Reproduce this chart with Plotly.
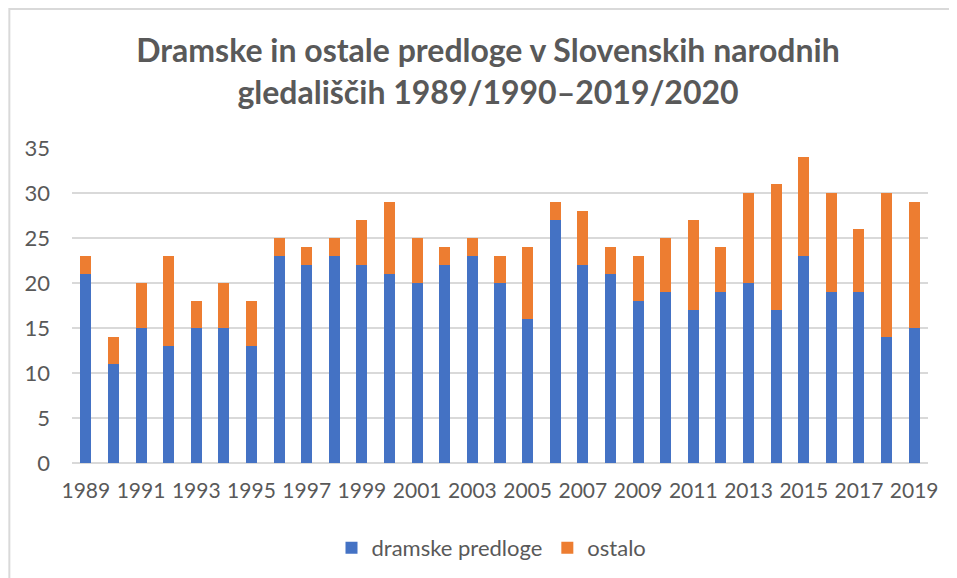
import plotly.graph_objects as go

years = list(range(1989, 2020))
dramske = [21, 11, 15, 13, 15, 15, 13, 23, 22, 23, 22, 21, 20, 22, 23, 20, 16, 27, 22, 21, 18, 19, 17, 19, 20, 17, 23, 19, 19, 14, 15]
ostalo = [2, 3, 5, 10, 3, 5, 5, 2, 2, 2, 5, 8, 5, 2, 2, 3, 8, 2, 6, 3, 5, 6, 10, 5, 10, 14, 11, 11, 7, 16, 14]
tick_years = list(range(1989, 2020, 2))
y_ticks = [0, 5, 10, 15, 20, 25, 30, 35]

FONT = "Lato"
GRAY = "#595959"

L, R, T, B = 63.7, 36.7, 140, 123
PW = 957 - L - R
PH = 578 - T - B

fig = go.Figure()
fig.add_trace(go.Bar(x=years, y=dramske, name="dramske predloge", marker=dict(color="#4472C4", line=dict(width=0))))
fig.add_trace(go.Bar(x=years, y=ostalo, name="ostalo", marker=dict(color="#ED7D31", line=dict(width=0))))

fig.update_layout(
    barmode="stack",
    bargap=0.6,
    width=957, height=578,
    margin=dict(l=L, r=R, t=T, b=B, autoexpand=False),
    paper_bgcolor="white", plot_bgcolor="white",
    font=dict(family=FONT, color=GRAY, size=22),
    title=dict(
        text="<b>Dramske in ostale predloge v Slovenskih narodnih<br>gledališčih 1989/1990–2019/2020</b>",
        x=480 / 957, xanchor="center", xref="container",
        y=1 - 54 / 578, yanchor="top", yref="container",
        font=dict(family=FONT, size=32, color=GRAY),
    ),
    xaxis=dict(
        range=[1988.5, 2019.5], tickmode="array", tickvals=tick_years,
        ticktext=[str(t) for t in tick_years], showgrid=False, zeroline=False,
        showline=False, ticks="", ticklabelstandoff=13, tickangle=0,
        tickfont=dict(size=21, color=GRAY), automargin=False,
    ),
    yaxis=dict(
        range=[0, 35], tickmode="array", tickvals=y_ticks, showgrid=True,
        gridcolor="#d9d9d9", gridwidth=1.5, zeroline=True, zerolinecolor="#d9d9d9",
        zerolinewidth=1.5, showline=False, ticks="", ticklabelstandoff=21,
        tickfont=dict(size=22, color=GRAY), automargin=False,
    ),
    legend=dict(
        orientation="h", x=483.5 / 957, xanchor="center", xref="container",
        y=38 / 578, yanchor="middle", yref="container",
        font=dict(size=22, color=GRAY), traceorder="normal",
    ),
    shapes=[dict(type="rect", xref="paper", yref="paper",
                 x0=(1 - L) / PW, x1=1.2, y0=-0.6, y1=(T + PH - 1) / PH,
                 line=dict(color="#d9d9d9", width=2), fillcolor="rgba(0,0,0,0)", layer="below")],
)

fig.write_html("out.html")
